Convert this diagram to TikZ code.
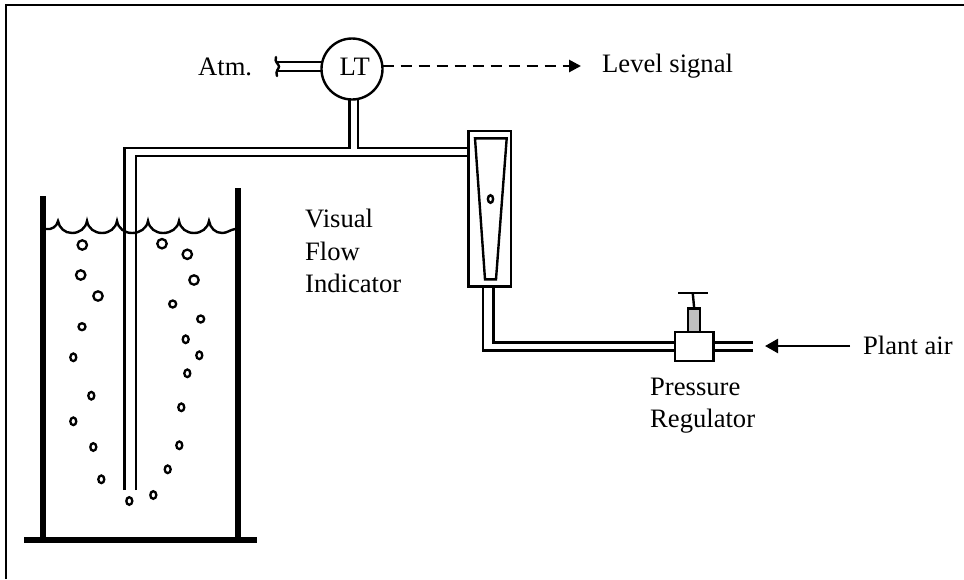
\documentclass[tikz,border=0pt]{standalone}
\usepackage{fontspec}
\setmainfont{Liberation Serif}
\usetikzlibrary{positioning,arrows.meta,calc}
\tikzset{
  pipe/.style={line width=2.4pt},
  lbl/.style={font=\fontsize{26.6}{30}\selectfont, inner sep=0pt, anchor=base west},
  bubble/.style={line width=2.3pt},
}
\begin{document}
\begin{tikzpicture}[x=1pt,y=-1pt]
  \useasboundingbox (0,0) rectangle (964,579);
  % outer frame, top and left only
  \draw[line width=2pt] (6,579) -- (6,5) -- (964,5);

  % tank
  \coordinate (wallL) at (43,196);
  \coordinate (wallR) at (238,188);
  \fill (24,537) rectangle (257,543);
  \fill ($(wallL)+(-3,0)$) rectangle (46,540);
  \fill ($(wallR)+(-3,0)$) rectangle (241,540);

  % water surface
  \draw[line width=2.4pt] (46,229) to[out=-10,in=-100] (58,221)
    to[out=-80,in=180] (72,233) to[out=0,in=-100] (87,221)
    to[out=-80,in=180] (102,233) to[out=0,in=-100] (117,221)
    to[out=-80,in=180] (132,233) to[out=0,in=-100] (148,221)
    to[out=-80,in=180] (163,233) to[out=0,in=-100] (179,221)
    to[out=-80,in=180] (194,233) to[out=0,in=-100] (209,221)
    to[out=-80,in=180] (222,233) to[out=0,in=190] (235,229);

  % instruments
  \node[draw, circle, line width=2.4pt, minimum size=61pt, inner sep=0pt, outer sep=0pt] (lt) at (352,69) {};
  \node[lbl] (ltname) at (339.5,75.7) {LT};
  \node[draw, line width=2.4pt, minimum width=42.4pt, minimum height=155.7pt, inner sep=0pt,
    outer sep=0pt] (meter) at (489.5,208.8) {};
  \node[draw, line width=2.4pt, minimum width=38.3pt, minimum height=29pt, inner sep=0pt,
    outer sep=0pt] (reg) at (694.2,346.2) {};
  \draw[pipe] (475,138.3) -- (506.7,138.3) -- (496,279.3) -- (485,279.3) -- cycle;
  \draw[line width=2.4pt] (490.5,199) ellipse (2.6 and 3.8);

  % regulator top
  \node[draw, fill=black!25, line width=2.4pt, minimum width=12pt, minimum height=23.4pt,
    inner sep=0pt, outer sep=0pt, anchor=south] (bonnet) at (reg.north) {};
  \coordinate (handle) at (692.7,292.7);
  \draw[pipe] (bonnet.north) -- (handle);
  \draw[pipe] (678.3,292.7) -- (707.7,292.7);

  % air lines
  \coordinate (dipA) at (124.3,490);
  \coordinate (dipB) at (135.7,490);
  \coordinate (atmA) at (277,62);
  \coordinate (atmB) at (277,71);
  \coordinate (airA) at (753.3,342.3);
  \coordinate (airB) at (753.3,350.3);
  \coordinate (teeA) at (349.5,148);
  \coordinate (teeB) at (357.7,148);
  \draw[pipe] (dipA) -- (124.3,148) -- (teeA) -- (teeA |- lt.south);
  \draw[pipe] (dipB) -- (135.7,156) -- (meter.west |- 0,156);
  \draw[pipe] (teeB |- lt.south) -- (teeB) -- (meter.west |- teeB);
  \draw[pipe] (482.7,286.6) -- (482.7,350.3) -- (reg.west |- airB);
  \draw[pipe] (493.3,286.6) -- (493.3,342.3) -- (reg.west |- airA);
  \draw[pipe] (reg.east |- airA) -- (airA);
  \draw[pipe] (reg.east |- airB) -- (airB);
  \draw[pipe] (atmA) -- (atmA -| lt.west);
  \draw[pipe] (atmB) -- (atmB -| lt.west);
  \draw[pipe, line cap=round] (276,57) .. controls (274,62) and (279,64) .. (279,66.5)
    .. controls (279,69) and (275,71) .. (277,76);

  % signals
  \coordinate (levelEnd) at (581,66);
  \coordinate (airStart) at (850,346);
  \coordinate (airEnd) at (765,346);
  \draw[line width=2.8pt, dash pattern=on 11pt off 7pt, -{Triangle[length=12pt,width=12pt]}] (lt.east |- levelEnd) -- (levelEnd);
  \draw[line width=2.4pt, -{Triangle[length=13pt,width=14pt]}] (airStart) -- (airEnd);

  % bubbles, big ones first
  \foreach \bx/\by in {82.3/245, 80.7/275, 98/296, 162/243.7, 187.3/254.3, 194/280}
    \draw[bubble] (\bx,\by) circle (4.7);
  \foreach \bx/\by in {172.7/304, 200.7/319, 82/326.7}
    \draw[bubble] (\bx,\by) circle (3.5);
  \foreach \bx/\by in {185.7/339.3, 73.3/357.3, 199.3/355.3, 187.3/373.3, 91.3/395.7, 181.3/407.3,
      73.3/421.3, 93.3/447, 179.3/445.3, 101.3/479.3, 167.7/469.3, 153.3/495, 129.3/501}
    \draw[bubble] (\bx,\by) ellipse (3 and 3.8);

  % labels
  \node[lbl] (atm) at (198,75.7) {Atm.};
  \node[lbl] (level) at (602,72) {Level signal};
  \node[lbl] (plant) at (863,354) {Plant air};
  \node[lbl] (flow1) at (305,227) {Visual};
  \node[lbl] (flow2) at (305,260) {Flow};
  \node[lbl] (flow3) at (305,292.5) {Indicator};
  \node[lbl] (press1) at (650,395) {Pressure};
  \node[lbl] (press2) at (650,427) {Regulator};
\end{tikzpicture}
\end{document}
